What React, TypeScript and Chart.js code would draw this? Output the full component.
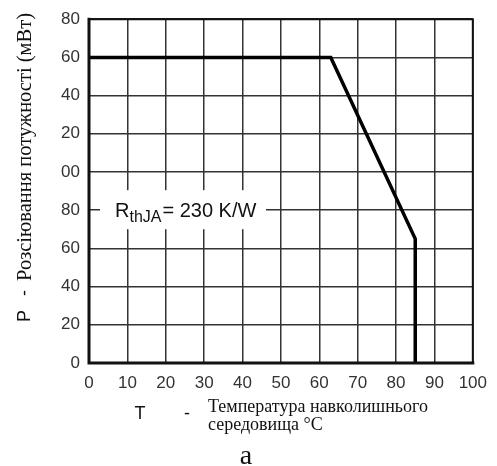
import React, { useEffect, useRef } from 'react';
import { Chart, registerables } from 'chart.js';

Chart.register(...registerables);

// Data (temperature °C -> dissipated power)
const tempPoints = [0, 63, 85, 85];
const powerPoints = [160, 160, 65, 0];

// Axis ticks
const xTickValues = [0, 10, 20, 30, 40, 50, 60, 70, 80, 90, 100];
const yTickValues = [0, 20, 40, 60, 80, 100, 120, 140, 160, 180];
const yTickLabels = ['0', '20', '40', '60', '80', '00', '20', '40', '60', '80'];

// Texts
const ratingMain = 'R';
const ratingSub = 'thJA';
const ratingRest = '= 230 K/W';
const ratingAtValue = 80;
const yTitleSymbol = 'P';
const yTitleText = 'Розсіювання потужності (мВт)';
const xTitleSymbol = 'T';
const xTitleLine1 = 'Температура навколишнього';
const xTitleLine2 = 'середовища °C';
const caption = 'а';

const SANS = '"Liberation Sans", Arial, Helvetica, sans-serif';
const SERIF = '"Liberation Serif", "Times New Roman", serif';

const annotationsPlugin = {
  id: 'annotations',
  beforeDatasetsDraw(chart: any) {
    const { ctx, chartArea, scales } = chart;
    const y = scales.y.getPixelForValue(ratingAtValue);
    ctx.save();
    ctx.fillStyle = '#ffffff';
    ctx.fillRect(chartArea.left + 11, y - 20, 166, 39);
    ctx.fillStyle = '#111111';
    ctx.textAlign = 'left';
    ctx.textBaseline = 'alphabetic';
    let x = chartArea.left + 26;
    ctx.font = `20px ${SANS}`;
    ctx.fillText(ratingMain, x, y + 7);
    x += ctx.measureText(ratingMain).width;
    ctx.font = `16px ${SANS}`;
    ctx.fillText(ratingSub, x, y + 12);
    x += ctx.measureText(ratingSub).width + 1;
    ctx.font = `20px ${SANS}`;
    ctx.fillText(ratingRest, x, y + 7);
    ctx.restore();
  },
  afterDatasetsDraw(chart: any) {
    const { ctx, chartArea } = chart;
    const { left, right, top, bottom } = chartArea;
    ctx.save();
    ctx.strokeStyle = '#111111';
    ctx.lineCap = 'square';
    ctx.lineWidth = 2;
    ctx.beginPath();
    ctx.moveTo(left, top);
    ctx.lineTo(right, top);
    ctx.lineTo(right, bottom);
    ctx.stroke();
    ctx.lineWidth = 3;
    ctx.beginPath();
    ctx.moveTo(left, top);
    ctx.lineTo(left, bottom);
    ctx.lineTo(right, bottom);
    ctx.stroke();
    ctx.restore();
  },
  afterDraw(chart: any) {
    const { ctx } = chart;
    ctx.save();
    ctx.fillStyle = '#111111';
    // Y axis title (rotated)
    ctx.translate(25, 0);
    ctx.rotate(-Math.PI / 2);
    ctx.textBaseline = 'middle';
    ctx.textAlign = 'left';
    ctx.font = `18px ${SANS}`;
    ctx.fillText(yTitleSymbol, -322, 0);
    ctx.fillText('-', -296, 0);
    ctx.font = `20.5px ${SERIF}`;
    ctx.fillText(yTitleText, -281, 1);
    ctx.restore();

    ctx.save();
    ctx.fillStyle = '#111111';
    ctx.textBaseline = 'middle';
    ctx.textAlign = 'center';
    ctx.font = `18px ${SANS}`;
    ctx.fillText(xTitleSymbol, 140, 414);
    ctx.fillText('-', 187, 414);
    ctx.textAlign = 'left';
    ctx.textBaseline = 'alphabetic';
    ctx.font = `18px ${SERIF}`;
    ctx.fillText(xTitleLine1, 208, 412);
    ctx.fillText(xTitleLine2, 208, 430);
    ctx.textAlign = 'center';
    ctx.font = `28px ${SERIF}`;
    ctx.fillText(caption, 246, 464);
    ctx.restore();
  },
};

export default function App() {
  const canvasRef = useRef<HTMLCanvasElement | null>(null);

  useEffect(() => {
    const canvas = canvasRef.current;
    if (!canvas) return;
    const data = tempPoints.map((t, i) => ({ x: t, y: powerPoints[i] }));
    const tickFont = { family: SANS, size: 17 };
    const chart = new Chart(canvas, {
      type: 'scatter',
      data: {
        datasets: [
          {
            data,
            showLine: true,
            borderColor: '#000000',
            borderWidth: 3.5,
            pointRadius: 0,
            tension: 0,
            fill: false,
          },
        ],
      },
      options: {
        animation: false,
        responsive: false,
        devicePixelRatio: 1,
        layout: { padding: { left: 0, top: 15, right: 23, bottom: 0 } },
        plugins: {
          legend: { display: false },
          tooltip: { enabled: false },
          title: { display: false },
        },
        scales: {
          x: {
            type: 'linear',
            min: 0,
            max: 100,
            afterBuildTicks: (s: any) => {
              s.ticks = xTickValues.map((v) => ({ value: v }));
            },
            afterFit: (s: any) => {
              s.height = 103;
            },
            grid: { color: '#333333', lineWidth: 1.5, drawTicks: false },
            border: { display: false },
            ticks: {
              padding: 10,
              font: tickFont,
              color: '#333333',
              maxRotation: 0,
              autoSkip: false,
            },
          },
          y: {
            type: 'linear',
            min: 0,
            max: 180,
            afterBuildTicks: (s: any) => {
              s.ticks = yTickValues.map((v) => ({ value: v }));
            },
            afterFit: (s: any) => {
              s.width = 89;
            },
            grid: { color: '#333333', lineWidth: 1.5, drawTicks: false },
            border: { display: false },
            ticks: {
              padding: 9,
              font: tickFont,
              color: '#333333',
              autoSkip: false,
              callback: (_v: any, i: number) => yTickLabels[i],
            },
          },
        },
      },
      plugins: [annotationsPlugin],
    } as any);
    return () => chart.destroy();
  }, []);

  return (
    <div style={{ position: 'absolute', left: 0, top: 0, width: 497, height: 466, background: '#ffffff' }}>
      <canvas ref={canvasRef} width={497} height={466} style={{ display: 'block' }} />
    </div>
  );
}
